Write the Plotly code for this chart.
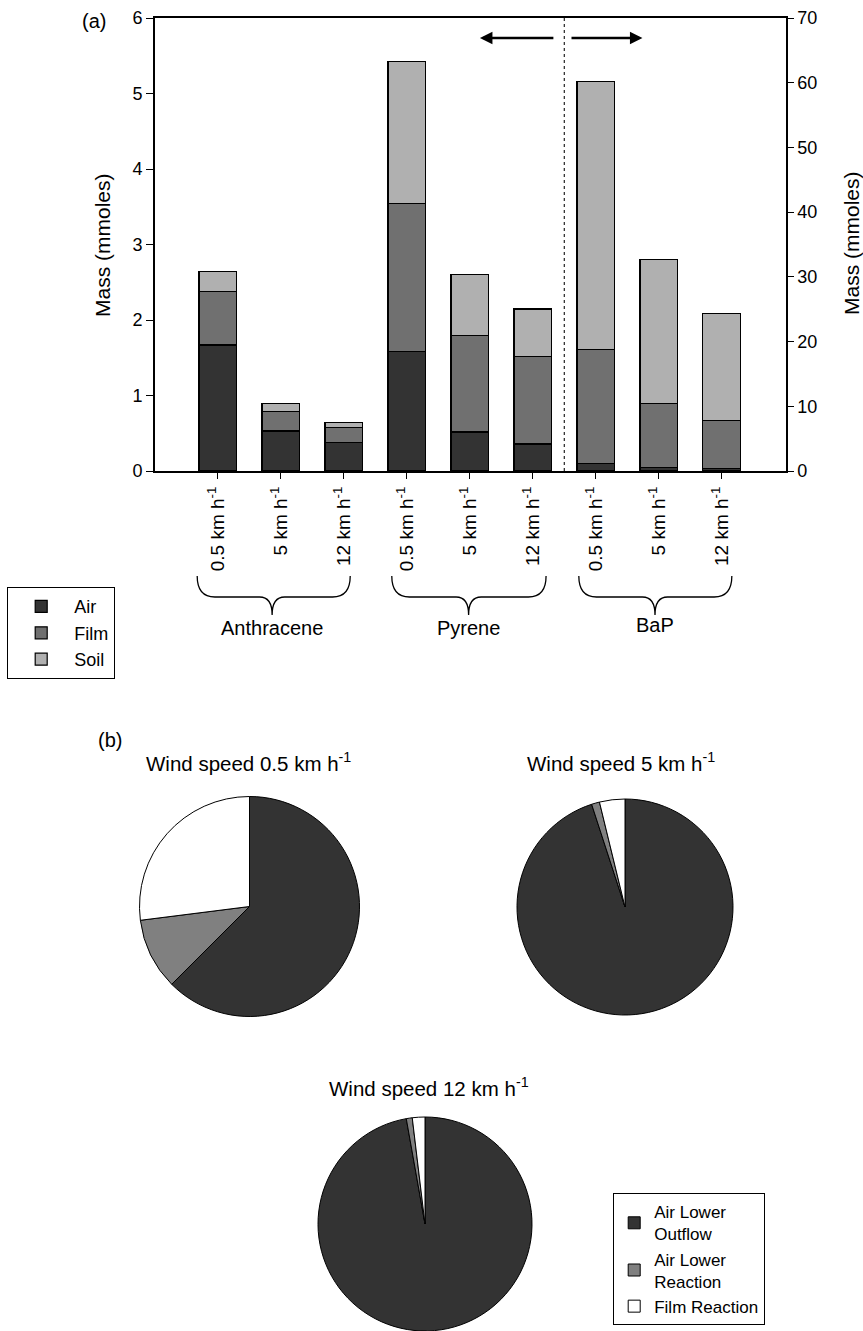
import plotly.graph_objects as go

W, H = 863, 1331

# ---------------- data ----------------
speed_labels = ["0.5 km h<sup>-1</sup>", "5 km h<sup>-1</sup>", "12 km h<sup>-1</sup>"]
compounds = ["Anthracene", "Pyrene", "BaP"]
components = ["Air", "Film", "Soil"]

# Anthracene + Pyrene (left axis, mmoles) : 6 bars
ap_air = [1.67, 0.53, 0.375, 1.585, 0.517, 0.358]
ap_film = [0.71, 0.26, 0.205, 1.955, 1.273, 1.162]
ap_soil = [0.26, 0.10, 0.065, 1.88, 0.81, 0.625]

# BaP (right axis, mmoles) : 3 bars
bap_air = [1.13, 0.52, 0.36]
bap_film = [17.67, 9.88, 7.43]
bap_soil = [41.4, 22.3, 16.5]

pie_titles = ["Wind speed 0.5 km h<sup>-1</sup>", "Wind speed 5 km h<sup>-1</sup>",
              "Wind speed 12 km h<sup>-1</sup>"]
pie_labels = ["Air Lower<br>Outflow", "Air Lower<br>Reaction", "Film Reaction"]
pie_05 = [62.5, 10.5, 27.0]
pie_5 = [95.0, 1.2, 3.8]
pie_12 = [97.2, 0.9, 1.9]

# ---------------- style ----------------
FONT = "Liberation Sans, Arial, Helvetica, sans-serif"
bar_colors = {"Air": "#333333", "Film": "#707070", "Soil": "#b0b0b0"}
pie_colors = ["#333333", "#808080", "#ffffff"]

def px_x(p):
    return min(1.0, max(0.0, p / W))

def px_y(p):
    return min(1.0, max(0.0, 1 - p / H))

fig = go.Figure()

x_ap = list(range(6))
x_bap = [6, 7, 8]
for name, vals in zip(components, [ap_air, ap_film, ap_soil]):
    fig.add_trace(go.Bar(
        x=x_ap, y=vals, name=name, width=0.6, legendgroup=name, legend="legend",
        marker=dict(color=bar_colors[name], line=dict(color="black", width=1.2)),
        xaxis="x", yaxis="y"))
for name, vals in zip(components, [bap_air, bap_film, bap_soil]):
    fig.add_trace(go.Bar(
        x=x_bap, y=vals, name=name, width=0.6, legendgroup=name, showlegend=False,
        marker=dict(color=bar_colors[name], line=dict(color="black", width=1.2)),
        xaxis="x", yaxis="y2"))

# pies
pie_geom = [((249.5, 906.5), 110), ((625, 907), 108), ((425, 1224), 107)]
for vals, ((cx, cy), r) in zip([pie_05, pie_5, pie_12], pie_geom):
    fig.add_trace(go.Pie(
        labels=pie_labels, values=vals, sort=False, direction="clockwise", rotation=0,
        textinfo="none", hoverinfo="label+percent", legend="legend2",
        marker=dict(colors=pie_colors, line=dict(color="black", width=1)),
        domain=dict(x=[px_x(cx - r), px_x(cx + r)], y=[px_y(cy + r), px_y(cy - r)])))

plot_top, plot_bot = 18, 471
x_left, x_right = 155, 786

fig.update_layout(
    width=W, height=H,
    margin=dict(l=0, r=0, t=0, b=0),
    paper_bgcolor="white", plot_bgcolor="white",
    font=dict(family=FONT, size=18, color="black"),
    barmode="stack", bargap=0.4,
    xaxis=dict(domain=[px_x(x_left), px_x(x_right)], range=[-1, 9.02],
               tickvals=list(range(9)), ticktext=speed_labels * 3, tickangle=-90,
               ticks="outside", ticklen=6, tickwidth=1.2, tickcolor="black",
               showline=True, linewidth=2, linecolor="black", mirror=True,
               showgrid=False, zeroline=False, automargin=False,
               tickfont=dict(size=19)),
    yaxis=dict(domain=[px_y(plot_bot), px_y(plot_top)], range=[0, 6], dtick=1,
               ticks="outside", ticklen=7, tickwidth=1.2, tickcolor="black",
               showline=True, linewidth=2, linecolor="black",
               showgrid=False, zeroline=False, automargin=False,
               tickfont=dict(size=18)),
    yaxis2=dict(overlaying="y", side="right", anchor="x", range=[0, 70], dtick=10,
                ticks="outside", ticklen=6, tickwidth=1.2, tickcolor="black",
                showline=True, linewidth=1.5, linecolor="black",
                showgrid=False, zeroline=False, automargin=False,
                tickfont=dict(size=18)),
    legend=dict(x=px_x(7), y=px_y(587), xanchor="left", yanchor="top",
                bordercolor="black", borderwidth=1.2, bgcolor="white",
                traceorder="normal", itemwidth=56, font=dict(size=18), tracegroupgap=0),
    legend2=dict(x=px_x(613), y=px_y(1193), xanchor="left", yanchor="top",
                 bordercolor="black", borderwidth=1.2, bgcolor="white",
                 traceorder="normal", font=dict(size=17)),
    showlegend=True,
)

# dashed separator and arrows
fig.add_shape(type="line", xref="x", yref="paper", x0=5.5, x1=5.5,
              y0=px_y(plot_bot), y1=px_y(plot_top),
              line=dict(color="#333333", width=1.3, dash="dot"))
arrow_y = 5.735  # in left-axis units (pixel row ~38)
for tail, head in [(5.35, 4.16), (5.59, 6.74)]:
    fig.add_annotation(x=head, y=arrow_y, ax=tail, ay=arrow_y, xref="x", yref="y",
                       axref="x", ayref="y", text="", showarrow=True,
                       arrowhead=2, arrowsize=1, arrowwidth=2.5, arrowcolor="black")

# braces under groups
brace_top, brace_mid, brace_tip = px_y(576), px_y(597), px_y(615)
brace_spans = [(-0.33, 0.86, 2.10), (2.76, 3.98, 5.21), (5.73, 6.94, 8.16)]
label_y = [628, 628, 625]
for (xa, xc, xb), cname, ly in zip(brace_spans, compounds, label_y):
    de, dc = 0.28, 0.2
    path = (f"M {xa},{brace_top} Q {xa},{brace_mid} {xa+de},{brace_mid} "
            f"L {xc-dc},{brace_mid} Q {xc},{brace_mid} {xc},{brace_tip} "
            f"Q {xc},{brace_mid} {xc+dc},{brace_mid} "
            f"L {xb-de},{brace_mid} Q {xb},{brace_mid} {xb},{brace_top}")
    fig.add_shape(type="path", xref="x", yref="paper", path=path,
                  line=dict(color="black", width=1.3))
    fig.add_annotation(x=xc, y=px_y(ly), xref="x", yref="paper", text=cname,
                       showarrow=False, font=dict(size=20), xanchor="center", yanchor="middle")

def label(text, x, y, size, angle=0):
    fig.add_annotation(x=px_x(x), y=px_y(y), xref="paper", yref="paper", text=text,
                       textangle=angle, showarrow=False, font=dict(size=size),
                       xanchor="center", yanchor="middle")

# axis titles
label("Mass (mmoles)", 103, 245, 21, -90)
label("Mass (mmoles)", 851, 243, 21, -90)

# panel labels
label("(a)", 94, 21, 20)
label("(b)", 110, 740, 20)

# pie titles
for t, (tx, ty) in zip(pie_titles, [(249, 762), (621, 762), (429, 1087)]):
    label(t, tx, ty, 20.5)

fig.write_html("out.html", config={"displayModeBar": False},
               post_script="document.body.style.margin='0';")
